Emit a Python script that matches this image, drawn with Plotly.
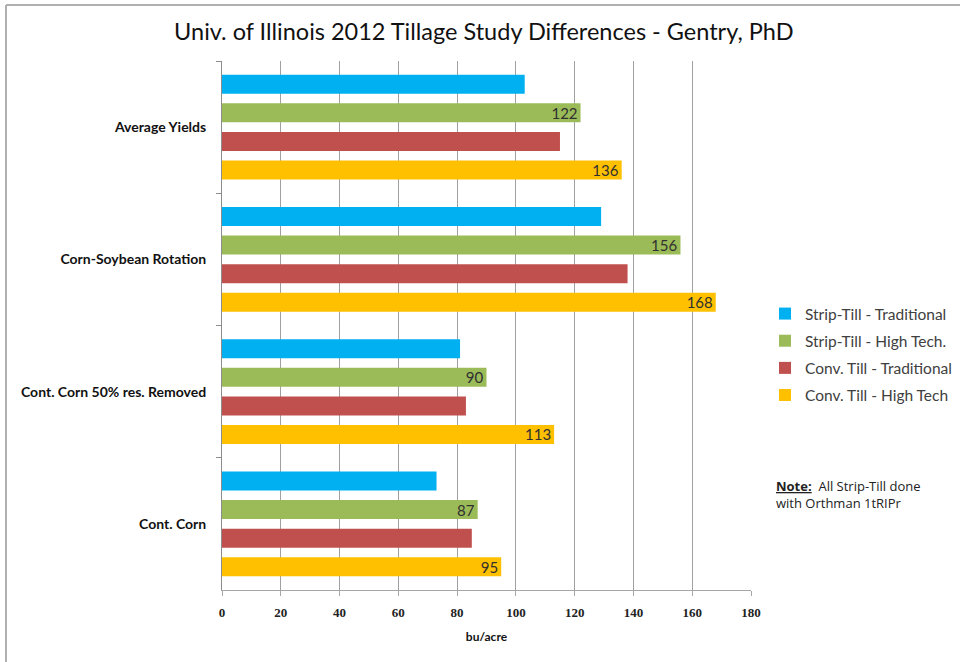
import plotly.graph_objects as go

categories = ["Average Yields", "Corn-Soybean Rotation", "Cont. Corn 50% res. Removed", "Cont. Corn"]
series_names = ["Strip-Till - Traditional", "Strip-Till - High Tech.", "Conv. Till - Traditional", "Conv. Till - High Tech"]
strip_trad = [103, 129, 81, 73]
strip_high = [122, 156, 90, 87]
conv_trad = [115, 138, 83, 85]
conv_high = [136, 168, 113, 95]
x_ticks = [0, 20, 40, 60, 80, 100, 120, 140, 160, 180]

colors = ["#00B0F0", "#9BBB59", "#C0504D", "#FFC000"]
values = [strip_trad, strip_high, conv_trad, conv_high]
show_labels = [False, True, False, True]

fig = go.Figure()
for i, (name, vals) in enumerate(zip(series_names, values)):
    fig.add_trace(go.Bar(
        y=categories, x=vals, orientation="h", name=name,
        marker=dict(color=colors[i], line=dict(width=0)),
        text=[str(v) for v in vals] if show_labels[i] else None,
        textposition="inside" if show_labels[i] else "none",
        insidetextanchor="end", textangle=0,
        textfont=dict(family="Lato", size=15, color="#303030"),
        legendgroup=f"g{i}",
        hoverinfo="x+name",
    ))

fig.update_layout(
    width=960, height=662,
    margin=dict(l=222, r=209, t=61, b=72, autoexpand=False),
    paper_bgcolor="white", plot_bgcolor="white",
    barmode="group", bargap=0.136, bargroupgap=0.333,
    uniformtext=dict(minsize=15, mode="show"),
    title=dict(text="Univ. of Illinois 2012 Tillage Study Differences - Gentry, PhD",
               font=dict(family="Lato", size=23.5, color="#111111"),
               x=0.504, xanchor="center", xref="container",
               y=1 - 32 / 662, yanchor="middle", yref="container"),
    xaxis=dict(range=[0, 180], tickvals=x_ticks, ticktext=[str(t) for t in x_ticks],
               showgrid=True, gridcolor="#a0a0a0", gridwidth=1,
               showline=True, linecolor="#a6a6a6", linewidth=1,
               ticks="outside", ticklen=5, tickcolor="#a6a6a6",
               tickfont=dict(family="Liberation Serif", size=13, color="#222222", weight="bold"),
               ticklabelstandoff=5,
               title=dict(text="<b>bu/acre</b>", font=dict(family="Lato", size=12, color="#111111"), standoff=14),
               zeroline=False, fixedrange=True),
    yaxis=dict(autorange="reversed", showgrid=False,
               showline=True, linecolor="#8c8c8c", linewidth=1,
               ticks="outside", ticklen=5, tickcolor="#8c8c8c", tickson="boundaries",
               tickfont=dict(family="Lato", size=14, color="#111111", weight="bold"),
               ticklabelstandoff=12, fixedrange=True),
    legend=dict(x=765 / 960, xanchor="left", xref="container",
                y=1 - 297 / 662, yanchor="top", yref="container",
                font=dict(family="Lato", size=15.5, color="#404040"),
                tracegroupgap=4, traceorder="grouped", itemwidth=30,
                bgcolor="rgba(0,0,0,0)", itemclick=False),
    showlegend=True,
)

fig.add_annotation(
    text="<b><u>Note:</u></b>  All Strip-Till done<br>with Orthman 1tRIPr",
    xref="paper", yref="paper", x=(774 - 222) / 529, y=1 - (475 - 61) / 529,
    xanchor="left", yanchor="top", align="left", showarrow=False,
    font=dict(family="Open Sans", size=13, color="#222222"),
)

# outer chart frame (top and left edges visible)
fig.add_shape(type="line", xref="paper", yref="paper",
              x0=-216 / 529, x1=738 / 529, y0=1 + 56 / 529, y1=1 + 56 / 529,
              line=dict(color="#b0b0b0", width=2))
fig.add_shape(type="line", xref="paper", yref="paper",
              x0=-216 / 529, x1=-216 / 529, y0=1 + 56 / 529, y1=-72 / 529,
              line=dict(color="#b0b0b0", width=2))

fig.write_html("out.html")
